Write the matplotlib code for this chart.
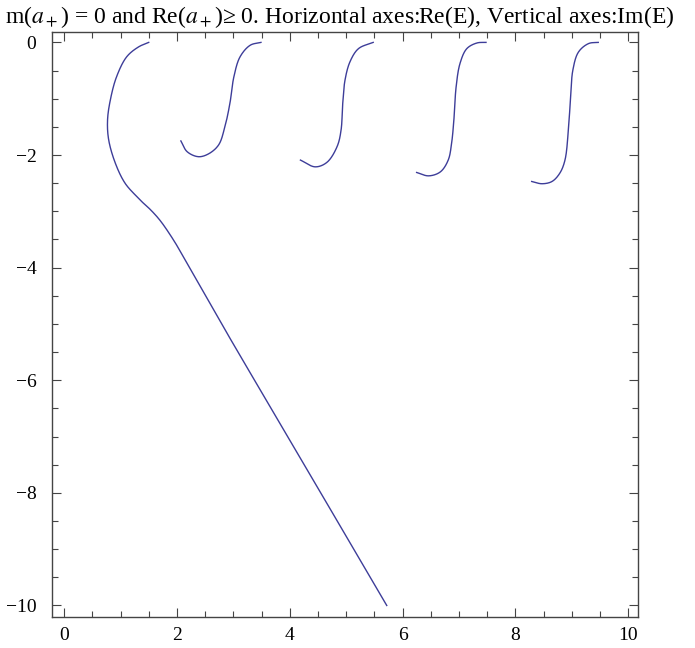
import matplotlib
matplotlib.use("Agg")
import matplotlib.pyplot as plt
import numpy as np
from matplotlib.ticker import MultipleLocator

plt.rcParams['font.family'] = ['Liberation Serif', 'DejaVu Serif']
plt.rcParams['mathtext.fontset'] = 'stix'

# curve values (Re(E), Im(E))
c1_x = [1.50, 1.32, 1.11, 0.93, 0.82, 0.77, 0.79, 0.91, 1.08, 1.29, 1.40, 1.52, 1.70, 1.94, 2.11, 2.88, 4.07, 5.72]
c1_y = [0.00, -0.08, -0.255, -0.61, -1.02, -1.38, -1.73, -2.15, -2.50, -2.74, -2.85, -2.96, -3.16, -3.51, -3.80, -5.15, -7.18, -10.0]
c2_x = [2.07, 2.18, 2.38, 2.56, 2.74, 2.85, 2.94, 3.01, 3.12, 3.30, 3.49]
c2_y = [-1.75, -1.94, -2.03, -1.98, -1.82, -1.50, -1.08, -0.61, -0.255, -0.05, 0.00]
c3_x = [4.19, 4.45, 4.66, 4.84, 4.91, 4.94, 4.98, 5.07, 5.22, 5.48]
c3_y = [-2.09, -2.21, -2.13, -1.85, -1.56, -1.08, -0.67, -0.34, -0.11, 0.00]
c4_x = [6.25, 6.46, 6.67, 6.81, 6.87, 6.91, 6.95, 7.02, 7.14, 7.32, 7.48]
c4_y = [-2.31, -2.37, -2.30, -2.09, -1.79, -1.38, -0.79, -0.37, -0.11, -0.01, 0.00]
c5_x = [8.29, 8.47, 8.65, 8.79, 8.88, 8.94, 8.98, 9.02, 9.12, 9.30, 9.47]
c5_y = [-2.47, -2.51, -2.47, -2.32, -2.09, -1.56, -0.97, -0.49, -0.17, -0.02, 0.00]

curves = [(c1_x, c1_y), (c2_x, c2_y), (c3_x, c3_y), (c4_x, c4_y), (c5_x, c5_y)]


def smooth(xs, ys, alpha=0.5):
    # centripetal catmull-rom through the read points
    p = np.column_stack([xs, ys]).astype(float)
    p = np.vstack([2 * p[0] - p[1], p, 2 * p[-1] - p[-2]])
    out = []
    for i in range(1, len(p) - 2):
        p0, p1, p2, p3 = p[i - 1], p[i], p[i + 1], p[i + 2]
        t0 = 0.0
        t1 = t0 + np.linalg.norm(p1 - p0) ** alpha
        t2 = t1 + np.linalg.norm(p2 - p1) ** alpha
        t3 = t2 + np.linalg.norm(p3 - p2) ** alpha
        t = np.linspace(t1, t2, 30, endpoint=False)[:, None]
        a1 = (t1 - t) / (t1 - t0) * p0 + (t - t0) / (t1 - t0) * p1
        a2 = (t2 - t) / (t2 - t1) * p1 + (t - t1) / (t2 - t1) * p2
        a3 = (t3 - t) / (t3 - t2) * p2 + (t - t2) / (t3 - t2) * p3
        b1 = (t2 - t) / (t2 - t0) * a1 + (t - t0) / (t2 - t0) * a2
        b2 = (t3 - t) / (t3 - t1) * a2 + (t - t1) / (t3 - t1) * a3
        out.append((t2 - t) / (t2 - t1) * b1 + (t - t1) / (t2 - t1) * b2)
    out.append(p[-2][None, :])
    out = np.vstack(out)
    return out[:, 0], out[:, 1]


fig = plt.figure(figsize=(6.95, 6.48), dpi=100)
ax = fig.add_axes([51.7 / 695, 1 - 617.3 / 648, (638.3 - 51.7) / 695, (617.3 - 31.7) / 648])

for xs, ys in curves:
    sx, sy = smooth(xs, ys)
    ax.plot(sx, sy, color="#3d3d99", linewidth=1.0)

ax.set_xlim(-0.22, 10.18)
ax.set_ylim(-10.21, 0.19)
ax.xaxis.set_major_locator(MultipleLocator(2))
ax.xaxis.set_minor_locator(MultipleLocator(0.5))
ax.yaxis.set_major_locator(MultipleLocator(2))
ax.yaxis.set_minor_locator(MultipleLocator(0.5))
ax.tick_params(which='both', direction='in', top=True, right=True, color='#444444',
               labelsize=14, labelfontfamily='Liberation Serif')
ax.tick_params(which='major', length=6.5, width=0.8)
ax.tick_params(which='minor', length=4, width=0.8)
ax.tick_params(axis='y', pad=11)
ax.tick_params(axis='x', pad=7)
for s in ax.spines.values():
    s.set_color('#444444')
    s.set_linewidth(1.0)

fig.text(5 / 695, 1 - 17 / 648,
         "m($a_+$) = 0 and Re($a_+$)\u2265 0. Horizontal axes:Re(E), Vertical axes:Im(E)",
         ha='left', va='center', fontsize=17)

fig.savefig("out.png", dpi=100)
